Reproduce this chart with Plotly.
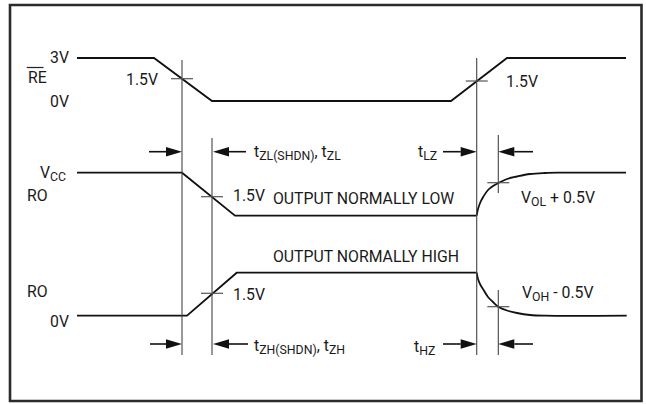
import plotly.graph_objects as go

# ---------------- data (diagram time units / level units) ----------------
# RE (receiver enable) waveform
re_t = [77, 154, 212, 451, 507, 626]
re_v = [58, 58, 101, 101, 58, 58]

# RO, output normally low: linear part then recovery curve
rol_t = [77, 182, 235, 476.7]
rol_v = [172.7, 172.7, 215.7, 215.7]
rol_curve_t = [476.7, 478, 480.5, 483.3, 488, 493, 498.3, 507, 517, 530, 545, 560, 626]
rol_curve_v = [215.7, 209, 202, 196.7, 190, 186, 183, 179, 176.5, 174, 173, 172.7, 172.7]

# RO, output normally high
roh_t = [77, 187, 236.7, 476.7]
roh_v = [315.7, 315.7, 272.7, 272.7]
roh_curve_t = [476.7, 478, 480.5, 483.3, 488, 493, 498.3, 507, 517, 530, 545, 626.7]
roh_curve_v = [272.7, 279, 285, 289.5, 297, 302, 306.7, 310.5, 313, 315, 315.7, 315.7]

# timing reference lines
vline_t = [182, 212, 476.7, 498.3, 498.3]
vline_top = [60, 138, 58, 135, 290]
vline_bot = [355, 355, 355, 193, 355]

# 1.5V / threshold crossing marks
cross_t = [182, 476.7, 212, 498.3, 212, 498.3]
cross_v = [78.7, 81, 196.7, 182.7, 293.3, 306.7]

# interval arrows (tail -> head)
arrow_v = [151.7, 151.7, 151.7, 151.7, 344, 344, 344, 344]
arrow_tail = [149, 246, 443, 533, 150, 248, 443, 533]
arrow_head = [182, 213, 476.7, 498.3, 182, 213, 476.7, 498.3]

# labels: text, t, v, anchor
SUB = "<sub><span style='font-size:12.3px'>%s</span></sub>"
labels = [
    ("3V", 48, 57.5, "left"),
    ("RE", 26, 77, "left"),
    ("0V", 48, 101.5, "left"),
    ("1.5V", 160, 79.5, "right"),
    ("1.5V", 504, 81, "left"),
    ("t" + SUB % "ZL(SHDN)" + ", t" + SUB % "ZL", 252, 152, "left"),
    ("t" + SUB % "LZ", 416, 152, "left"),
    ("V" + SUB % "CC", 38, 173, "left"),
    ("RO", 25, 195.5, "left"),
    ("1.5V", 231, 195.5, "left"),
    ("OUTPUT NORMALLY LOW", 271, 198.5, "left"),
    ("V" + SUB % "OL" + " + 0.5V", 519, 198, "left"),
    ("OUTPUT NORMALLY HIGH", 271, 256, "left"),
    ("RO", 25, 291.7, "left"),
    ("1.5V", 231, 294, "left"),
    ("V" + SUB % "OH" + " - 0.5V", 520, 293.5, "left"),
    ("0V", 48, 321, "left"),
    ("t" + SUB % "ZH(SHDN)" + ", t" + SUB % "ZH", 252, 346, "left"),
    ("t" + SUB % "HZ", 412, 347, "left"),
]

# ---------------- figure ----------------
FONT = "Roboto, Liberation Sans, sans-serif"
WAVE = dict(color="#111111", width=1.8)
REF = dict(color="#444444", width=1.1)

fig = go.Figure()

def add_line(x, y, line, shape="linear"):
    fig.add_trace(go.Scatter(x=x, y=y, mode="lines", line=dict(**line, shape=shape),
                             hoverinfo="skip", showlegend=False))

add_line(re_t, re_v, WAVE)
add_line(rol_t, rol_v, WAVE)
add_line(rol_curve_t, rol_curve_v, WAVE, "spline")
add_line(roh_t, roh_v, WAVE)
add_line(roh_curve_t, roh_curve_v, WAVE, "spline")

# vertical reference lines
vx, vy = [], []
for t, a, b in zip(vline_t, vline_top, vline_bot):
    vx += [t, t, None]
    vy += [a, b, None]
add_line(vx, vy, REF)

# crossing marks
HALF = 11
cx, cy = [], []
for t, v in zip(cross_t, cross_v):
    cx += [t - HALF, t + HALF, None]
    cy += [v, v, None]
add_line(cx, cy, dict(color="#555555", width=1.2))

# arrows
AL, AH = 16, 4.8
ax, ay = [], []
for v, t0, t1 in zip(arrow_v, arrow_tail, arrow_head):
    d = 1 if t1 > t0 else -1
    ax += [t0, t1 - d * AL, None]
    ay += [v, v, None]
    fig.add_shape(type="path", xref="x", yref="y",
                  path=f"M {t1},{v} L {t1 - d*AL},{v-AH} L {t1 - d*AL},{v+AH} Z",
                  fillcolor="#111111", line=dict(width=0))
add_line(ax, ay, dict(color="#111111", width=1.6))

# overline for RE
fig.add_shape(type="line", xref="x", yref="y", x0=26.7, x1=43.5, y0=67.5, y1=67.5,
              line=dict(color="#222222", width=1.2))

# frame
fig.add_shape(type="rect", xref="x", yref="y", x0=10, x1=641.5, y0=5, y1=401,
              line=dict(color="#2b2b2b", width=2.6))

for text, t, v, anc in labels:
    fig.add_annotation(x=t, y=v, text=text, showarrow=False, xanchor=anc,
                       yanchor="middle", xref="x", yref="y",
                       font=dict(family=FONT, size=15.8, color="#1a1a1a"))

fig.update_layout(
    width=646, height=404, margin=dict(l=0, r=0, t=0, b=0),
    paper_bgcolor="white", plot_bgcolor="white",
    xaxis=dict(range=[0, 646], visible=False, fixedrange=True),
    yaxis=dict(range=[404, 0], visible=False, fixedrange=True),
)

fig.write_html("out.html", config={"displayModeBar": False, "staticPlot": True},
               post_script="document.body.style.margin='0';document.body.style.overflow='hidden';")
